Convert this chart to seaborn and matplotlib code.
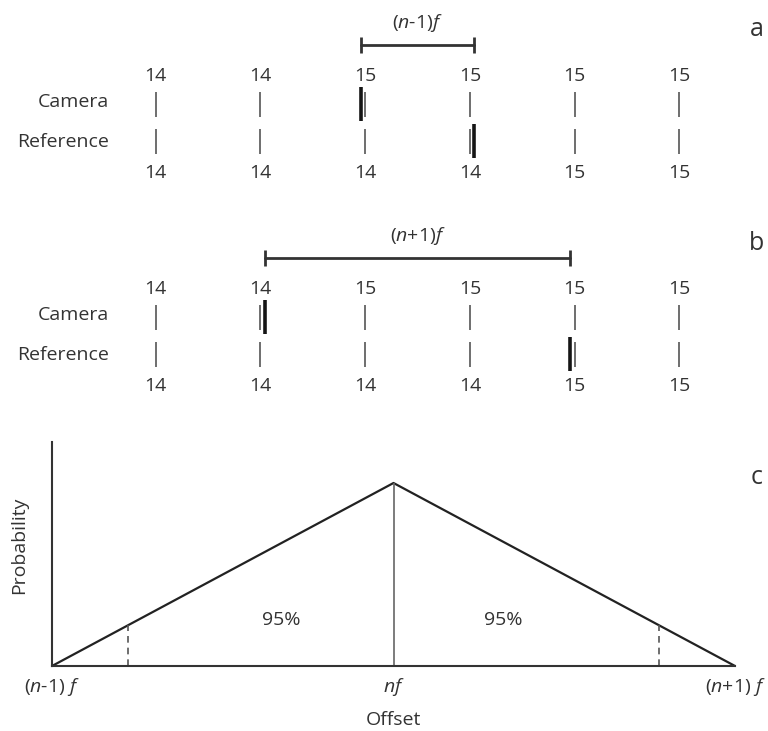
import numpy as np
import matplotlib
matplotlib.use("Agg")
import matplotlib.pyplot as plt
import seaborn as sns

# ---- data -------------------------------------------------------------
# frame counters shown above (camera) and below (reference) each column
camera_frames_a = [14, 14, 15, 15, 15, 15]
reference_frames_a = [14, 14, 14, 14, 15, 15]
camera_frames_b = [14, 14, 15, 15, 15, 15]
reference_frames_b = [14, 14, 14, 14, 15, 15]

# event marks, in column units
camera_event_a = 1.96
reference_event_a = 3.04
camera_event_b = 1.045
reference_event_b = 3.955

bracket_label_a = r"($n$-1)$f$"
bracket_label_b = r"($n$+1)$f$"

# offset distribution (triangle between (n-1)f and (n+1)f)
offset = [-1.0, 0.0, 1.0]
probability = [0.0, 1.0, 0.0]
offset_tick_labels = [r"($n$-1) $f$", r"$nf$", r"($n$+1) $f$"]
interval_bounds = [-0.776, 0.776]
interval_text = ["95%", "95%"]
interval_text_x = [-0.33, 0.32]

# ---- style ------------------------------------------------------------
sns.set_theme(style="white")
plt.rcParams.update({
    "font.family": ["Open Sans", "DejaVu Sans"],
    "mathtext.fontset": "custom",
    "mathtext.rm": "Open Sans",
    "mathtext.it": "Open Sans:italic",
    "mathtext.bf": "Open Sans:bold",
    "text.color": "#333333",
    "axes.labelcolor": "#333333",
    "xtick.color": "#333333",
})
FS = 14
THIN = "#555555"
THICK = "#151515"

W, H = 768, 731
fig = plt.figure(figsize=(W / 100, H / 100), dpi=100)

COL0, COLSTEP = 155.5, 104.8   # column layout in pixels
PANEL_H = 213
LAYOUT = dict(top=76, camera=104, reference=141, bottom=173,
              bracket=45, bracket_label=23, letter=30)


def frame_panel(top_px, cam, ref, cam_ev, ref_ev, label, letter):
    ax = fig.add_axes([0, 1 - (top_px + PANEL_H) / H, 1, PANEL_H / H])
    ax.set_xlim(-COL0 / COLSTEP, (W - COL0) / COLSTEP)
    ax.set_ylim(PANEL_H, 0)
    ax.axis("off")
    cols = np.arange(len(cam))
    cy, ry = LAYOUT["camera"], LAYOUT["reference"]
    ax.vlines(cols, cy - 12.5, cy + 12.5, color=THIN, lw=1.2)
    ax.vlines(cols, ry - 12.5, ry + 12.5, color=THIN, lw=1.2)
    ax.vlines([cam_ev], cy - 17, cy + 17, color=THICK, lw=2.6)
    ax.vlines([ref_ev], ry - 17, ry + 17, color=THICK, lw=2.6)
    for i, (c, r) in enumerate(zip(cam, ref)):
        ax.text(i, LAYOUT["top"], str(c), ha="center", va="center", fontsize=FS)
        ax.text(i, LAYOUT["bottom"], str(r), ha="center", va="center", fontsize=FS)
    lx = (109 - COL0) / COLSTEP
    ax.text(lx, cy - 2, "Camera", ha="right", va="center", fontsize=FS)
    ax.text(lx, ry + 1, "Reference", ha="right", va="center", fontsize=FS)
    by = LAYOUT["bracket"]
    ax.plot([cam_ev, ref_ev], [by, by], color="#333333", lw=2)
    ax.vlines([cam_ev, ref_ev], by - 8, by + 8, color="#333333", lw=2)
    ax.text((cam_ev + ref_ev) / 2, LAYOUT["bracket_label"], label,
            ha="center", va="center", fontsize=FS)
    ax.text((757 - COL0) / COLSTEP, LAYOUT["letter"], letter,
            ha="center", va="center", fontsize=18)


frame_panel(0, camera_frames_a, reference_frames_a,
            camera_event_a, reference_event_a, bracket_label_a, "a")
frame_panel(PANEL_H, camera_frames_b, reference_frames_b,
            camera_event_b, reference_event_b, bracket_label_b, "b")

# ---- panel c: offset distribution -------------------------------------
ax = fig.add_axes([52 / W, (H - 666) / H, 683 / W, 224 / H])
sns.lineplot(x=offset, y=probability, ax=ax, color="#222222", lw=1.6,
             sort=False, clip_on=False)
ax.set_xlim(-1, 1)
ax.set_ylim(0, 1.224)
ax.vlines([0], 0, max(probability), color="#666666", lw=1.2)
bound_heights = np.interp(interval_bounds, offset, probability)
ax.vlines(interval_bounds, 0, bound_heights, color="#555555", lw=1.2,
          linestyles=(0, (4, 3)))
for x, t in zip(interval_text_x, interval_text):
    ax.text(x, 0.25, t, ha="center", va="center", fontsize=FS)

sns.despine(ax=ax)
for s in ("left", "bottom"):
    ax.spines[s].set_color("#333333")
    ax.spines[s].set_linewidth(1.5)
ax.set_yticks([])
ax.set_xticks(offset, offset_tick_labels)
ax.tick_params(axis="x", length=0, pad=7, labelsize=FS)
ax.set_xlabel("Offset", fontsize=FS)
ax.xaxis.set_label_coords(0.5, -0.2)
ax.set_ylabel("Probability", fontsize=FS)
ax.yaxis.set_label_coords(-0.035, 0.54)
fig.text(757 / W, 1 - 477 / H, "c", ha="center", va="center", fontsize=18)

fig.savefig("out.png", dpi=100)
